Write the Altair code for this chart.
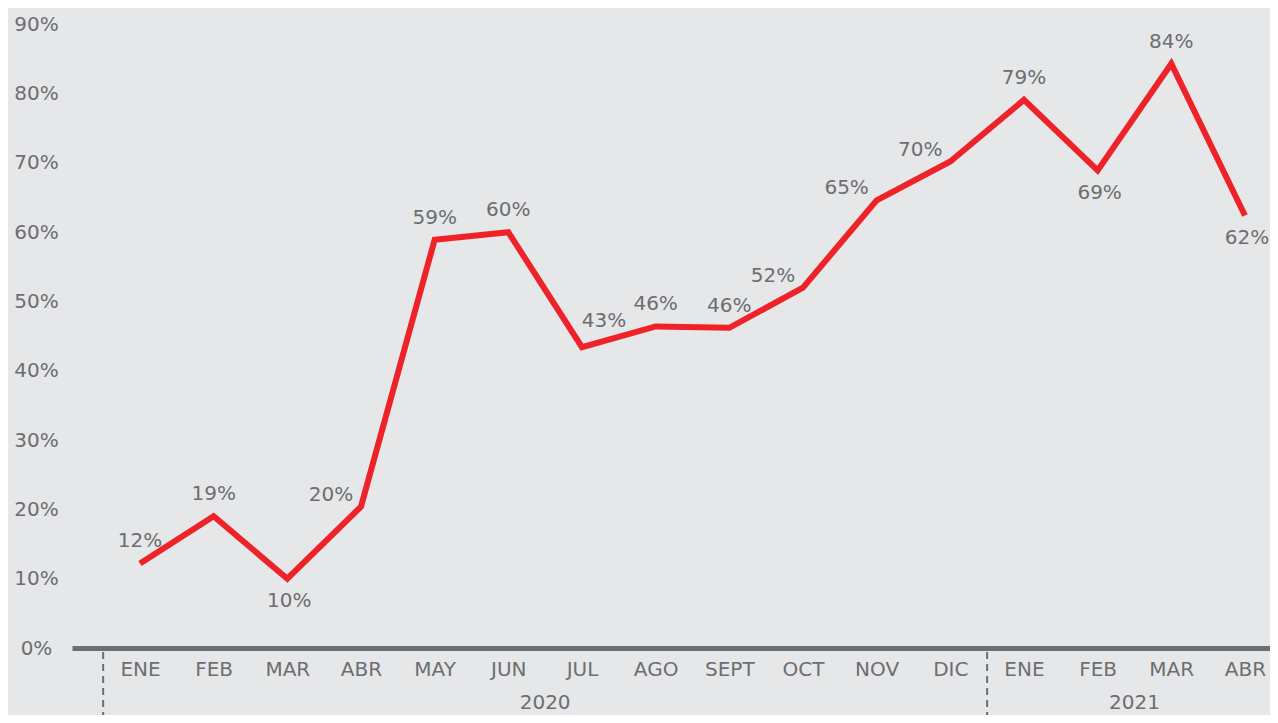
import altair as alt
import pandas as pd

# ---- data ----
months = ["ENE", "FEB", "MAR", "ABR", "MAY", "JUN", "JUL", "AGO", "SEPT", "OCT",
          "NOV", "DIC", "ENE", "FEB", "MAR", "ABR"]
years = ["2020"] * 12 + ["2021"] * 4
values = [12.2, 19.0, 10.0, 20.4, 58.9, 60.0, 43.4, 46.4, 46.2, 52.0,
          64.6, 70.2, 79.1, 68.9, 84.3, 62.4]
y_ticks = [0, 10, 20, 30, 40, 50, 60, 70, 80, 90]

# label placement groups (by point index)
below_idx = [2, 13, 15]
left_idx = [3, 9, 10, 11]
right_idx = [6]

df = pd.DataFrame({
    "i": list(range(len(months))),
    "month": months,
    "year": years,
    "value": values,
})

FONT = "DejaVu Sans"
GREY = "#6d6e71"
RED = "#ee2229"
BG = "#e6e7e8"
FS = 20

label_arr = "[" + ",".join("'" + m + "'" for m in months) + "]"

x_enc = alt.X(
    "i:Q",
    scale=alt.Scale(domain=[-0.923, 15.34], nice=False, zero=False),
    axis=alt.Axis(
        values=list(range(len(months))),
        labelExpr=label_arr + "[datum.value]",
        title=None, grid=False, ticks=False,
        domainColor=GREY, domainWidth=5,
        labelFont=FONT, labelFontSize=FS, labelColor=GREY,
        labelPadding=11, labelBaseline="top",
    ),
)
y_enc = alt.Y(
    "value:Q",
    scale=alt.Scale(domain=[0, 92.35], nice=False),
    axis=alt.Axis(
        values=y_ticks, labelExpr="datum.value + '%'",
        title=None, grid=False, ticks=False, domain=False,
        labelFont=FONT, labelFontSize=FS, labelColor=GREY,
        labelAlign="center", labelPadding=36,
    ),
)

base = alt.Chart(df)

line = base.mark_line(color=RED, strokeWidth=6, strokeJoin="miter").encode(x=x_enc, y=y_enc)

txt_kw = dict(font=FONT, fontSize=FS, color=GREY, baseline="middle", align="center")
lbl = alt.Text("lbl:N")


def text_layer(cond, dx, dy):
    return (
        base.transform_filter(cond)
        .transform_calculate(lbl="format(datum.value, '.0f') + '%'")
        .mark_text(dx=dx, dy=dy, **txt_kw)
        .encode(x="i:Q", y="value:Q", text=lbl)
    )


special = below_idx + left_idx + right_idx
t_above = text_layer(alt.FieldOneOfPredicate(field="i", oneOf=[k for k in range(len(months)) if k not in special]), 0, -22)
t_below = text_layer(alt.FieldOneOfPredicate(field="i", oneOf=below_idx), 2, 22)
t_left = text_layer(alt.FieldOneOfPredicate(field="i", oneOf=left_idx), -30, -12)
t_right = text_layer(alt.FieldOneOfPredicate(field="i", oneOf=right_idx), 22, -26)

year_txt = (
    base.transform_aggregate(mid="mean(i)", groupby=["year"])
    .mark_text(**txt_kw)
    .encode(x="mid:Q", y=alt.value(695), text="year:N")
)

sep = (
    base.transform_aggregate(start="min(i)", groupby=["year"])
    .transform_calculate(sx="datum.start - 0.5")
    .mark_rule(color=GREY, strokeWidth=2, strokeDash=[7, 5])
    .encode(x="sx:Q", y=alt.value(644), y2=alt.value(715))
)

chart = (
    alt.layer(line, t_above, t_below, t_left, t_right, year_txt, sep)
    .properties(
        width=1198, height=640,
        autosize=alt.AutoSizeParams(type="none"),
        padding={"left": 64, "top": 0, "right": 0, "bottom": 67},
    )
    .configure(background=BG)
    .configure_view(stroke=None)
)

chart.save("out.html", embed_options={"renderer": "svg", "actions": False})
